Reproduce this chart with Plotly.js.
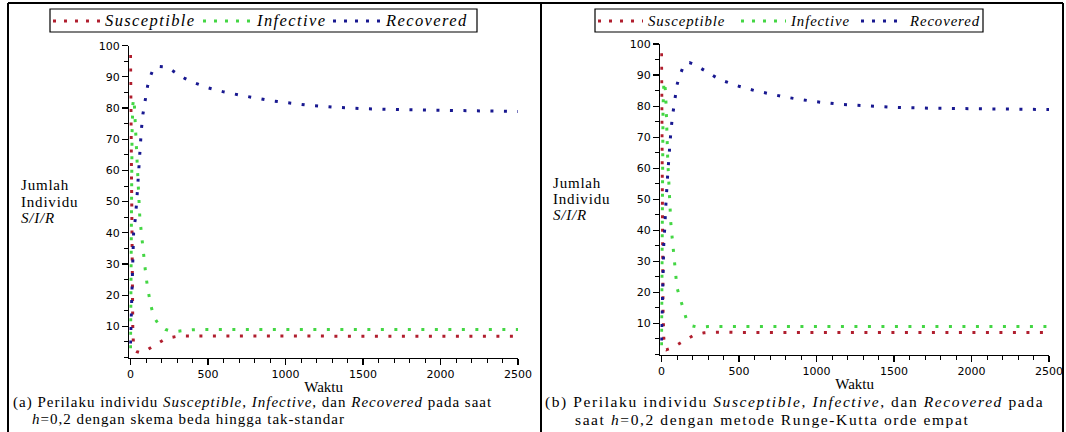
<!DOCTYPE html>
<html><head><meta charset="utf-8">
<script src="https://cdn.plot.ly/plotly-3.0.1.min.js"></script>
<style>html,body{margin:0;padding:0;background:#fff}#chart{width:1066px;height:432px}</style>
</head><body><div id="chart"></div>
<script>
// ---- data ----
const seriesNames = ['Susceptible', 'Infective', 'Recovered'];
const time = [0, 3, 6, 10, 15, 20, 25, 30, 40, 50, 60, 70, 80, 90, 100, 110, 120, 130, 140, 150, 160, 180, 200, 225, 250, 275, 300, 350, 400, 500, 600, 700, 800, 900, 1000, 1150, 1300, 1500, 1750, 2000, 2250, 2500];
// panel (a): non-standard finite difference
const susceptibleA = [97, 75, 45, 20, 8, 4, 2.6, 2.2, 1.9, 1.7, 1.6, 1.6, 1.7, 1.9, 2.2, 2.5, 2.8, 3.1, 3.4, 3.7, 4.0, 4.6, 5.1, 6.0, 6.3, 6.6, 6.8, 6.9, 6.9, 6.8, 6.8, 6.8, 6.8, 6.8, 6.8, 6.8, 6.8, 6.8, 6.8, 6.8, 6.8, 6.8];
const infectiveA = [3, 25, 52, 72, 81, 83, 81, 76, 62, 52, 45, 40, 35, 30, 26, 22.5, 19.5, 17, 15, 13.5, 12.3, 10.7, 9.8, 9.0, 8.6, 8.4, 8.4, 8.7, 8.9, 9.0, 9.0, 9.0, 9.0, 9.0, 9.0, 9.0, 9.0, 9.0, 9.0, 9.0, 9.0, 9.0];
const recoveredA = [4.5, 10, 17, 26, 35, 40, 42.5, 44, 50, 59, 68, 73, 78, 81.5, 84.5, 87, 89, 90.6, 91.7, 92.6, 93.1, 93.4, 93.4, 93.2, 92.7, 91.8, 91.0, 89.5, 88.3, 86.5, 85.2, 84.2, 83.2, 82.4, 81.8, 80.9, 80.3, 79.8, 79.5, 79.3, 79.1, 78.9];
// panel (b): fourth-order Runge-Kutta
const susceptibleB = [97, 70, 38, 14, 5, 2.2, 1.6, 1.5, 1.6, 1.8, 2.0, 2.2, 2.5, 2.8, 3.1, 3.4, 3.7, 4.0, 4.3, 4.6, 5.0, 5.5, 6.0, 6.5, 6.8, 7.0, 7.1, 7.2, 7.2, 7.1, 7.1, 7.1, 7.1, 7.1, 7.1, 7.1, 7.1, 7.1, 7.1, 7.1, 7.1, 7.1];
const infectiveB = [3, 32, 62, 80, 87, 88, 85, 80, 63, 51, 42.5, 37, 31.5, 27, 21.5, 19.8, 18.2, 16.3, 14.5, 12.6, 11.5, 10, 9.2, 8.9, 8.8, 8.9, 9.0, 9.0, 9.0, 9.0, 9.0, 9.0, 9.0, 9.0, 9.0, 9.0, 9.0, 9.0, 9.0, 9.0, 9.0, 9.0];
const recoveredB = [4.5, 12, 20, 29, 36, 40, 43.5, 50, 58, 66, 71.5, 76.5, 80.5, 84.3, 86.8, 88.7, 90.3, 91.6, 92.7, 93.4, 93.9, 94, 93.7, 93.1, 92.3, 91.5, 90.7, 89.3, 88.1, 86.4, 85.0, 83.9, 82.9, 82.1, 81.4, 80.6, 80.1, 79.6, 79.3, 79.1, 79.0, 78.9];
const xTickVals = [0, 500, 1000, 1500, 2000, 2500];
const yTickVals = [10, 20, 30, 40, 50, 60, 70, 80, 90, 100];
const xTitle = 'Waktu';
const yTitleLines = ['Jumlah', 'Individu', '<i>S/I/R</i>'];
const captionA = ['(a) Perilaku individu <i>Susceptible</i>, <i>Infective</i>, dan <i>Recovered</i> pada saat', '<i>h</i>=0,2 dengan skema beda hingga tak-standar'];
const captionB = ['(b) Perilaku individu <i>Susceptible</i>, <i>Infective</i>, dan <i>Recovered</i> pada', 'saat <i>h</i>=0,2 dengan metode Runge-Kutta orde empat'];

// ---- style ----
const colors = ['#b01e2e', '#44d644', '#181890'];
const W = 1066, H = 432;
const fx = p => p / W, fy = p => 1 - p / H;
const serif = 'Liberation Serif, Times New Roman, serif';
const tickFont = {family: 'DejaVu Sans, sans-serif', size: 11, color: '#000'};
const dataDash = '3px,10.5px';

const panels = [
  {xa: 'x', ya: 'y', vals: [susceptibleA, infectiveA, recoveredA],
   x0: 130.5, x1: 518, y0: 357.5, y1: 45.7},
  {xa: 'x2', ya: 'y2', vals: [susceptibleB, infectiveB, recoveredB],
   x0: 661.5, x1: 1049, y0: 354.5, y1: 44}
];

const traces = [];
panels.forEach(p => {
  p.vals.forEach((v, i) => {
    traces.push({
      type: 'scatter', mode: 'lines', name: seriesNames[i],
      x: time, y: v, xaxis: p.xa, yaxis: p.ya,
      line: {color: colors[i], width: 3, dash: dataDash},
      showlegend: false, hoverinfo: 'skip'
    });
  });
});

const xmin = -8, xmax = 2500;
function xAxis(p, anchor) {
  const k = (p.x1 - p.x0) / xmax;
  return {
    domain: [fx(p.x0 + xmin * k), fx(p.x1)], range: [xmin, xmax], anchor: anchor,
    showline: true, linecolor: '#000', linewidth: 1.3, showgrid: false, zeroline: false,
    tickmode: 'array', tickvals: xTickVals, ticks: 'outside', ticklen: 6, tickwidth: 1.2, tickcolor: '#000',
    minor: {dtick: 100, tick0: 0, ticks: 'outside', ticklen: 4, tickwidth: 1, tickcolor: '#000', showgrid: false},
    tickfont: tickFont,
    title: {text: xTitle, font: {family: serif, size: 15, color: '#000'}, standoff: 1}
  };
}
function yAxis(p, anchor) {
  return {
    domain: [fy(p.y0), fy(p.y1)], range: [0, 100], anchor: anchor,
    showline: true, linecolor: '#000', linewidth: 1.3, showgrid: false, zeroline: false,
    tickmode: 'array', tickvals: yTickVals, ticks: 'outside', ticklen: 6, tickwidth: 1.2, tickcolor: '#000',
    minor: {dtick: 5, tick0: 0, ticks: 'outside', ticklen: 4, tickwidth: 1, tickcolor: '#000', showgrid: false},
    tickfont: tickFont
  };
}

const shapes = [];
const annotations = [];
const spacing = [];   // letter-spacing (px) per annotation
function addText(x, y, text, size, ls) {
  annotations.push({xref: 'paper', yref: 'paper', x: fx(x), y: fy(y), xanchor: 'left', yanchor: 'middle',
    showarrow: false, text: text, font: {family: serif, size: size, color: '#000'}, borderpad: 0});
  spacing.push(ls);
}
// frame
const frameLine = {color: '#000', width: 2};
[[8, 3, 1063, 3], [8, 3, 8, 432], [541, 3, 541, 432], [1063, 3, 1063, 432]].forEach(s => {
  shapes.push({type: 'line', xref: 'paper', yref: 'paper', x0: fx(s[0]), y0: fy(s[1]), x1: fx(s[2]), y1: fy(s[3]), line: frameLine});
});

// legends (one per panel)
const legends = [
  {box: [50, 477], entries: [[53, 100, 104], [203, 252, 256], [333, 381, 385]], size: 16.5, ls: 1.4},
  {box: [595, 983], entries: [[598, 643, 647], [741, 786, 790], [861, 904, 909]], size: 14.8, ls: 0.9}
];
legends.forEach(L => {
  shapes.push({type: 'rect', xref: 'paper', yref: 'paper', x0: fx(L.box[0]), x1: fx(L.box[1]), y0: fy(32), y1: fy(9), line: {color: '#000', width: 1.2}, fillcolor: 'rgba(0,0,0,0)'});
  L.entries.forEach((e, i) => {
    shapes.push({type: 'line', xref: 'paper', yref: 'paper', x0: fx(e[0]), x1: fx(e[1]), y0: fy(21), y1: fy(21), line: {color: colors[i], width: 3, dash: '3px,8px'}});
    addText(e[2], 20.5, '<i>' + seriesNames[i] + '</i>', L.size, L.ls);
  });
});

// y titles
const yTitlePos = [{x: 20, y: [185, 202, 218]}, {x: 552, y: [183, 199, 215]}];
yTitlePos.forEach(pos => {
  yTitleLines.forEach((t, i) => addText(pos.x, pos.y[i], t, 15, 0.8));
});
// captions
[[captionA, 12, 31, 15, 1.0], [captionB, 544, 574, 15.5, 1.6]].forEach(c => {
  addText(c[1], 402, c[0][0], c[3], c[4]);
  addText(c[2], 419, c[0][1], c[3], c[4]);
});

const layout = {
  width: W, height: H, margin: {l: 0, r: 0, t: 0, b: 0},
  paper_bgcolor: '#fff', plot_bgcolor: '#fff', showlegend: false,
  xaxis: xAxis(panels[0], 'y'), yaxis: yAxis(panels[0], 'x'),
  xaxis2: xAxis(panels[1], 'y2'), yaxis2: yAxis(panels[1], 'x2'),
  shapes: shapes, annotations: annotations
};
Plotly.newPlot('chart', traces, layout, {staticPlot: true, displayModeBar: false}).then(gd => {
  // widen the serif texts a little (the original uses a wide serif face), keeping their left edge fixed
  gd.querySelectorAll('.annotation').forEach(g => {
    const idx = +g.getAttribute('data-index');
    const t = g.querySelector('text');
    if (!t || !spacing[idx]) return;
    const left = t.getBBox().x;
    t.style.letterSpacing = spacing[idx] + 'px';
    t.setAttribute('text-anchor', 'start');
    t.setAttribute('x', left);
    t.querySelectorAll('tspan[x]').forEach(s => s.setAttribute('x', left));
  });
});
</script>
</body></html>
